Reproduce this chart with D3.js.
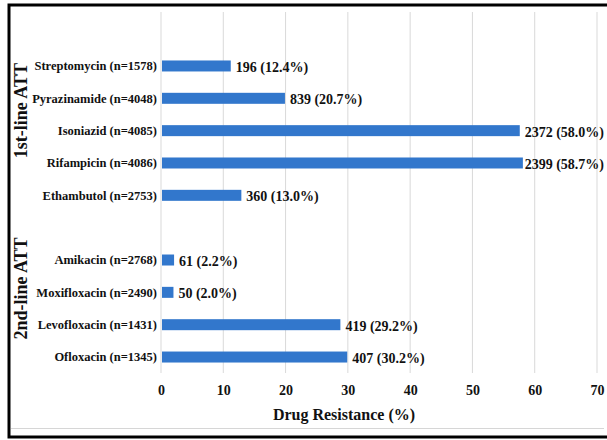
<!DOCTYPE html>
<html>
<head>
<meta charset="utf-8">
<script src="https://cdn.jsdelivr.net/npm/d3@7"></script>
<style>
  body { margin: 0; background: #fff; }
  svg text { font-family: "Liberation Serif", "Times New Roman", serif; font-weight: bold; fill: #111; }
</style>
</head>
<body>
<svg id="chart" width="607" height="440"></svg>
<script>
// drugs top to bottom, "" is the empty row between the two groups
const drugs = ['Streptomycin', 'Pyrazinamide', 'Isoniazid', 'Rifampicin', 'Ethambutol', '',
  'Amikacin', 'Moxifloxacin', 'Levofloxacin', 'Ofloxacin'];
const tested = [1578, 4048, 4085, 4086, 2753, null, 2768, 2490, 1431, 1345];
const resistant = [196, 839, 2372, 2399, 360, null, 61, 50, 419, 407];
const pctLabels = ['12.4', '20.7', '58.0', '58.7', '13.0', null, '2.2', '2.0', '29.2', '30.2'];
// bar lengths as drawn in the figure
const barValues = [11.2, 19.9, 57.6, 58.1, 12.9, null, 2.1, 2.0, 28.8, 29.9];
const xTicks = [0, 10, 20, 30, 40, 50, 60, 70];
const groups = [
  { name: '1st-line ATT', from: 'Streptomycin', to: 'Ethambutol' },
  { name: '2nd-line ATT', from: 'Amikacin', to: 'Ofloxacin' }
];

const svg = d3.select('#chart');

const x = d3.scaleLinear().domain([0, 70]).range([161, 597]);
const keys = drugs.map((d, i) => d || 'gap' + i);
const y = d3.scaleBand()
  .domain(keys)
  .range([49.8, 373.2])
  .paddingInner(0.66)
  .paddingOuter(0.33);

// frame
svg.append('rect')
  .attr('x', 9).attr('y', 5)
  .attr('width', 620).attr('height', 432)
  .attr('fill', 'none')
  .attr('stroke', '#000')
  .attr('stroke-width', 3);
svg.append('line')
  .attr('x1', 11).attr('x2', 604)
  .attr('y1', 428.5).attr('y2', 428.5)
  .attr('stroke', '#d6d6d6');

// gridlines
svg.append('g')
  .selectAll('line')
  .data(xTicks)
  .enter()
  .append('line')
  .attr('x1', d => x(d)).attr('x2', d => x(d))
  .attr('y1', 12).attr('y2', 373)
  .attr('stroke', '#d9d9d9')
  .attr('stroke-width', 1);

// x axis
const xAxis = d3.axisBottom(x)
  .tickValues(xTicks)
  .tickSize(0)
  .tickPadding(10);
const gx = svg.append('g')
  .attr('transform', 'translate(0,375)')
  .call(xAxis);
gx.select('.domain').remove();
gx.selectAll('text')
  .style('font-size', '14px')
  .style('font-family', '"Liberation Serif", serif')
  .style('font-weight', 'bold')
  .attr('fill', '#111');

svg.append('text')
  .attr('x', 344).attr('y', 420)
  .attr('text-anchor', 'middle')
  .style('font-size', '16px')
  .text('Drug Resistance (%)');

// category labels
const rows = drugs.map((d, i) => ({
  drug: d, key: keys[i], n: tested[i], count: resistant[i], pct: pctLabels[i], value: barValues[i]
})).filter(d => d.drug);

svg.append('g')
  .selectAll('text')
  .data(rows)
  .enter()
  .append('text')
  .attr('x', 157)
  .attr('y', d => y(d.key) + y.bandwidth() / 2)
  .attr('dy', '0.35em')
  .attr('text-anchor', 'end')
  .style('font-size', '12.5px')
  .text(d => `${d.drug} (n=${d.n})`);

// bars
svg.append('g')
  .selectAll('rect')
  .data(rows)
  .enter()
  .append('rect')
  .attr('x', x(0) + 1)
  .attr('y', d => y(d.key))
  .attr('width', d => x(d.value) - x(0) - 1)
  .attr('height', y.bandwidth())
  .attr('fill', '#3277cc');

// value labels, pulled back onto the bar end when they would run off the frame
const rightLimit = 604;
svg.append('g')
  .selectAll('text')
  .data(rows)
  .enter()
  .append('text')
  .attr('y', d => y(d.key) + y.bandwidth() / 2 + 1)
  .attr('dy', '0.35em')
  .style('font-size', '14px')
  .text(d => `${d.count} (${d.pct}%)`)
  .attr('x', function (d) {
    const w = this.getComputedTextLength();
    return Math.min(x(d.value) + 5, rightLimit - w);
  });

// group labels, sit a little above the middle of their rows
svg.append('g')
  .selectAll('text')
  .data(groups)
  .enter()
  .append('text')
  .attr('transform', d => {
    const cy = (y(d.from) + y(d.to) + y.bandwidth()) / 2 - 20;
    return `translate(27,${cy}) rotate(-90)`;
  })
  .attr('text-anchor', 'middle')
  .style('font-size', '18px')
  .text(d => d.name);
</script>
</body>
</html>
